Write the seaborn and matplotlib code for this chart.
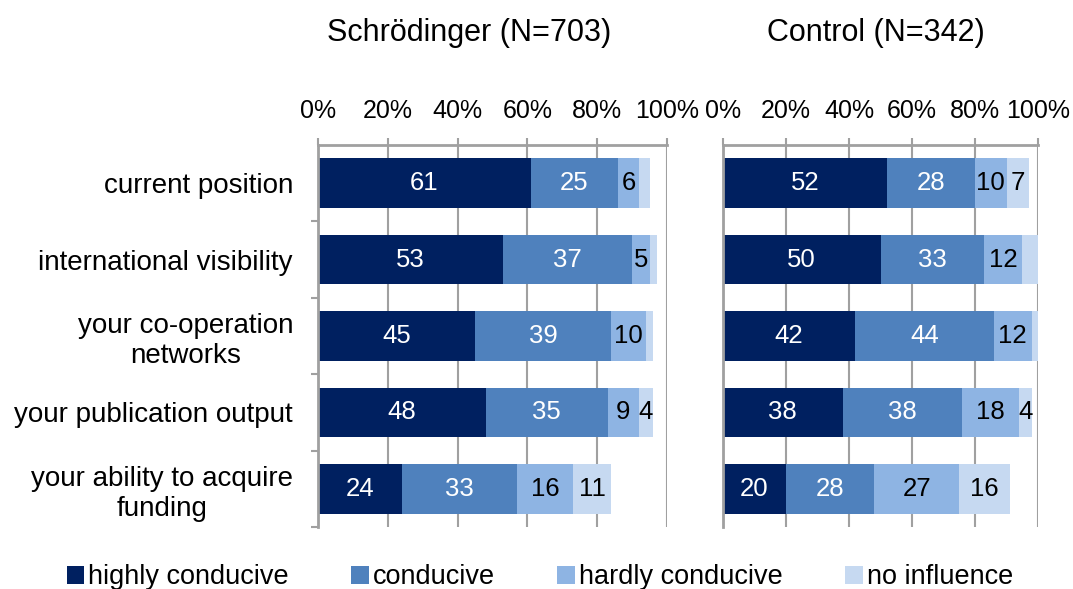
import matplotlib
matplotlib.use("Agg")
import matplotlib.pyplot as plt
import seaborn as sns
import pandas as pd
import numpy as np
from matplotlib.patches import Patch
from matplotlib.ticker import FixedLocator

# ---------------- data ----------------
categories = ["current position", "international visibility",
              "your co-operation\nnetworks", "your publication output",
              "your ability to acquire\nfunding"]
series = ["highly conducive", "conducive", "hardly conducive", "no influence"]

schroedinger_highly = [61, 53, 45, 48, 24]
schroedinger_conducive = [25, 37, 39, 35, 33]
schroedinger_hardly = [6, 5, 10, 9, 16]
schroedinger_none = [3, 2, 2, 4, 11]

control_highly = [52, 50, 42, 38, 20]
control_conducive = [28, 33, 44, 38, 28]
control_hardly = [10, 12, 12, 18, 27]
control_none = [7, 5, 2, 4, 16]

panel_titles = ["Schrödinger (N=703)", "Control (N=342)"]
xtick_values = [0, 20, 40, 60, 80, 100]
xtick_labels = ["0%", "20%", "40%", "60%", "80%", "100%"]

# segments whose value label is not shown in the original: (panel, category, series)
hidden_labels = [(0, 0, 3), (0, 1, 3), (0, 2, 3), (1, 1, 3), (1, 2, 3)]

colors = ["#002060", "#4F81BD", "#8EB4E3", "#C6D9F1"]
label_colors = ["white", "white", "black", "black"]
grid_color = "#A0A0A0"

panels = [
    [schroedinger_highly, schroedinger_conducive, schroedinger_hardly, schroedinger_none],
    [control_highly, control_conducive, control_hardly, control_none],
]

# ---------------- style ----------------
sns.set_theme(style="white")
plt.rcParams["font.family"] = ["Liberation Sans", "DejaVu Sans"]
plt.rcParams["text.color"] = "black"
plt.rcParams["xtick.labelcolor"] = "black"
plt.rcParams["ytick.labelcolor"] = "black"

fig = plt.figure(figsize=(10.73, 5.89), dpi=100)
ax_positions = [
    [318 / 1073, 62 / 589, 349 / 1073, 382 / 589],
    [723 / 1073, 62 / 589, 315 / 1073, 382 / 589],
]
title_x = [469 / 1073, 876 / 1073]

for p, (vals, pos) in enumerate(zip(panels, ax_positions)):
    ax = fig.add_axes(pos)
    arr = np.array(vals, dtype=float)  # series x categories
    cum = np.cumsum(arr, axis=0)
    # draw from the largest cumulative to smallest so each overlays the previous
    for s in range(len(series) - 1, -1, -1):
        df = pd.DataFrame({"cat": categories, "val": cum[s]})
        sns.barplot(data=df, x="val", y="cat", orient="h", color=colors[s],
                    width=0.65, ax=ax, saturation=1, linewidth=0,
                    order=categories)
    # value labels
    for s in range(len(series)):
        for c in range(len(categories)):
            if (p, c, s) in hidden_labels:
                continue
            v = arr[s, c]
            mid = cum[s, c] - v / 2
            ax.text(mid, c, f"{int(round(v))}", ha="center", va="center",
                    color=label_colors[s], fontsize=18.5)

    ax.set_xlim(0, 100)
    ax.set_ylim(len(categories) - 0.5, -0.5)
    ax.set_xlabel("")
    ax.set_ylabel("")
    ax.xaxis.tick_top()
    ax.set_xticks(xtick_values)
    ax.set_xticklabels(xtick_labels, fontsize=18)
    ax.tick_params(axis="x", which="major", direction="out", length=5,
                   width=1.5, color=grid_color, labelcolor="black", pad=11,
                   top=True, bottom=False)
    ax.grid(axis="x", color=grid_color, linewidth=1.5, zorder=0)
    ax.grid(axis="y", visible=False)
    ax.set_axisbelow(True)
    for side in ["right", "bottom"]:
        ax.spines[side].set_visible(False)
    for side in ["top", "left"]:
        ax.spines[side].set_color(grid_color)
        ax.spines[side].set_linewidth(2)

    if p == 0:
        ax.set_yticks(range(len(categories)))
        ax.set_yticklabels(categories, fontsize=20, multialignment="center")
        ax.tick_params(axis="y", which="major", length=0, pad=18,
                       labelcolor="black")
        ax.yaxis.set_minor_locator(FixedLocator([0.5, 1.5, 2.5, 3.5, 4.5]))
        ax.tick_params(axis="y", which="minor", left=True, direction="out",
                       length=5, width=1.5, color=grid_color)
    else:
        ax.set_yticks([])

    fig.text(title_x[p], 548 / 589, panel_titles[p], ha="center",
             va="baseline", fontsize=22, color="black")

handles = [Patch(facecolor=c, edgecolor="none", label=l) for c, l in zip(colors, series)]
fig.legend(handles=handles, loc="center", bbox_to_anchor=(0.503, 0.02),
           ncol=4, frameon=False, fontsize=19.5, handlelength=0.65,
           handleheight=0.65, handletextpad=0.15, columnspacing=2.3,
           labelcolor="black")

fig.savefig("out.png", dpi=100)
